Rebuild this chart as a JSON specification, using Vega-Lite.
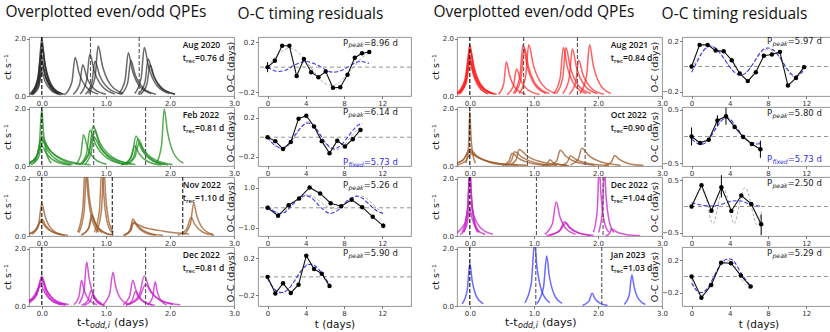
{
"$schema":"https://vega.github.io/schema/vega-lite/v6.json",
"background":"white",
"padding":{"left":1,"top":5,"right":2,"bottom":0},
"config":{
 "view":{"stroke":"#8a8a8a","strokeWidth":0.9},
 "axis":{"grid":false,"domain":false,"ticks":true,"tickColor":"#444","tickSize":2.5,"tickWidth":0.7,"labelFont":"DejaVu Sans","labelFontSize":7,"labelColor":"#333","labelPadding":1,"labelOverlap":false,"labelFlush":false,"titleFont":"DejaVu Sans","titleFontSize":9.5,"titleFontWeight":"normal","titleColor":"#111","titlePadding":2},
 "title":{"font":"Open Sans","fontSize":15.5,"fontWeight":"normal","color":"#111","anchor":"middle","offset":14},
 "text":{"font":"Open Sans","color":"#111"}
},
"datasets":{
"a1":[
{"f":1,"t":-0.15,"v":0.10},{"f":1,"t":-0.05,"v":0.76},{"f":1,"t":0,"v":2.05},{"f":1,"t":0.04,"v":1.25},{"f":1,"t":0.12,"v":0.45},{"f":1,"t":0.24,"v":0.10},
{"f":2,"t":-0.15,"v":0.09},{"f":2,"t":-0.05,"v":0.68},{"f":2,"t":0,"v":1.85},{"f":2,"t":0.045,"v":1.13},{"f":2,"t":0.135,"v":0.41},{"f":2,"t":0.27,"v":0.09},
{"f":3,"t":-0.14,"v":0.08},{"f":3,"t":-0.04,"v":0.61},{"f":3,"t":0.01,"v":1.65},{"f":3,"t":0.06,"v":1.01},{"f":3,"t":0.16,"v":0.36},{"f":3,"t":0.31,"v":0.08},
{"f":4,"t":-0.19,"v":0.07},{"f":4,"t":-0.07,"v":0.54},{"f":4,"t":-0.01,"v":1.45},{"f":4,"t":0.035,"v":0.88},{"f":4,"t":0.125,"v":0.32},{"f":4,"t":0.26,"v":0.07},
{"f":5,"t":-0.18,"v":0.06},{"f":5,"t":-0.06,"v":0.44},{"f":5,"t":0,"v":1.2},{"f":5,"t":0.055,"v":0.73},{"f":5,"t":0.165,"v":0.26},{"f":5,"t":0.33,"v":0.06},
{"f":6,"t":-0.17,"v":0.05},{"f":6,"t":-0.05,"v":0.37},{"f":6,"t":0.01,"v":1.0},{"f":6,"t":0.07,"v":0.61},{"f":6,"t":0.19,"v":0.22},{"f":6,"t":0.37,"v":0.05},
{"f":7,"t":-0.15,"v":0.04},{"f":7,"t":-0.05,"v":0.31},{"f":7,"t":0,"v":0.85},{"f":7,"t":0.05,"v":0.52},{"f":7,"t":0.15,"v":0.19},{"f":7,"t":0.30,"v":0.04},
{"f":8,"t":0.37,"v":0.07},{"f":8,"t":0.47,"v":0.50},{"f":8,"t":0.52,"v":1.35},{"f":8,"t":0.58,"v":0.82},{"f":8,"t":0.70,"v":0.30},{"f":8,"t":0.88,"v":0.07},
{"f":9,"t":0.49,"v":0.06},{"f":9,"t":0.59,"v":0.41},{"f":9,"t":0.64,"v":1.1},{"f":9,"t":0.70,"v":0.67},{"f":9,"t":0.82,"v":0.24},{"f":9,"t":1.00,"v":0.06},
{"f":10,"t":0.60,"v":0.07},{"f":10,"t":0.70,"v":0.55},{"f":10,"t":0.75,"v":1.48},{"f":10,"t":0.815,"v":0.90},{"f":10,"t":0.945,"v":0.33},{"f":10,"t":1.14,"v":0.07},
{"f":11,"t":0.68,"v":0.06},{"f":11,"t":0.78,"v":0.45},{"f":11,"t":0.83,"v":1.22},{"f":11,"t":0.90,"v":0.74},{"f":11,"t":1.04,"v":0.27},{"f":11,"t":1.25,"v":0.06},
{"f":12,"t":0.73,"v":0.09},{"f":12,"t":0.83,"v":0.65},{"f":12,"t":0.88,"v":1.75},{"f":12,"t":0.945,"v":1.07},{"f":12,"t":1.075,"v":0.39},{"f":12,"t":1.27,"v":0.09},
{"f":13,"t":1.20,"v":0.08},{"f":13,"t":1.30,"v":0.56},{"f":13,"t":1.35,"v":1.52},{"f":13,"t":1.41,"v":0.93},{"f":13,"t":1.53,"v":0.33},{"f":13,"t":1.71,"v":0.08},
{"f":14,"t":1.24,"v":0.06},{"f":14,"t":1.34,"v":0.46},{"f":14,"t":1.39,"v":1.25},{"f":14,"t":1.455,"v":0.76},{"f":14,"t":1.585,"v":0.28},{"f":14,"t":1.78,"v":0.06},
{"f":15,"t":1.45,"v":0.09},{"f":15,"t":1.55,"v":0.63},{"f":15,"t":1.60,"v":1.7},{"f":15,"t":1.665,"v":1.04},{"f":15,"t":1.795,"v":0.37},{"f":15,"t":1.99,"v":0.09},
{"f":16,"t":1.51,"v":0.07},{"f":16,"t":1.61,"v":0.48},{"f":16,"t":1.66,"v":1.3},{"f":16,"t":1.73,"v":0.79},{"f":16,"t":1.87,"v":0.29},{"f":16,"t":2.08,"v":0.07},
{"f":17,"t":1.54,"v":0.06},{"f":17,"t":1.64,"v":0.41},{"f":17,"t":1.69,"v":1.1},{"f":17,"t":1.755,"v":0.67},{"f":17,"t":1.885,"v":0.24},{"f":17,"t":2.08,"v":0.06}
],
"b1":[
{"f":1,"t":-0.12,"v":0.10},{"f":1,"t":-0.04,"v":0.74},{"f":1,"t":0,"v":2.0},{"f":1,"t":0.025,"v":1.22},{"f":1,"t":0.075,"v":0.44},{"f":1,"t":0.15,"v":0.10},
{"f":2,"t":-0.21,"v":0.05},{"f":2,"t":-0.07,"v":0.39},{"f":2,"t":0,"v":1.05},{"f":2,"t":0.10,"v":0.64},{"f":2,"t":0.30,"v":0.23},{"f":2,"t":0.60,"v":0.05},
{"f":3,"t":-0.24,"v":0.05},{"f":3,"t":-0.08,"v":0.35},{"f":3,"t":0,"v":0.95},{"f":3,"t":0.08,"v":0.58},{"f":3,"t":0.24,"v":0.21},{"f":3,"t":0.48,"v":0.05},
{"f":4,"t":-0.17,"v":0.04},{"f":4,"t":-0.05,"v":0.31},{"f":4,"t":0.01,"v":0.85},{"f":4,"t":0.135,"v":0.52},{"f":4,"t":0.385,"v":0.19},{"f":4,"t":0.76,"v":0.04},
{"f":5,"t":-0.3,"v":0.035},{"f":5,"t":-0.1,"v":0.26},{"f":5,"t":0,"v":0.7},{"f":5,"t":0.075,"v":0.43},{"f":5,"t":0.225,"v":0.15},{"f":5,"t":0.45,"v":0.035},
{"f":6,"t":0.53,"v":0.06},{"f":6,"t":0.61,"v":0.41},{"f":6,"t":0.65,"v":1.1},{"f":6,"t":0.71,"v":0.67},{"f":6,"t":0.83,"v":0.24},{"f":6,"t":1.01,"v":0.06},
{"f":7,"t":0.60,"v":0.06},{"f":7,"t":0.70,"v":0.46},{"f":7,"t":0.75,"v":1.25},{"f":7,"t":0.84,"v":0.76},{"f":7,"t":1.02,"v":0.28},{"f":7,"t":1.29,"v":0.06},
{"f":8,"t":0.62,"v":0.07},{"f":8,"t":0.74,"v":0.52},{"f":8,"t":0.80,"v":1.4},{"f":8,"t":0.90,"v":0.85},{"f":8,"t":1.10,"v":0.31},{"f":8,"t":1.40,"v":0.07},
{"f":9,"t":0.59,"v":0.05},{"f":9,"t":0.73,"v":0.39},{"f":9,"t":0.80,"v":1.05},{"f":9,"t":0.91,"v":0.64},{"f":9,"t":1.13,"v":0.23},{"f":9,"t":1.46,"v":0.05},
{"f":10,"t":0.67,"v":0.06},{"f":10,"t":0.77,"v":0.46},{"f":10,"t":0.82,"v":1.25},{"f":10,"t":0.90,"v":0.76},{"f":10,"t":1.06,"v":0.28},{"f":10,"t":1.30,"v":0.06},
{"f":11,"t":1.29,"v":0.05},{"f":11,"t":1.41,"v":0.39},{"f":11,"t":1.47,"v":1.05},{"f":11,"t":1.545,"v":0.64},{"f":11,"t":1.695,"v":0.23},{"f":11,"t":1.92,"v":0.05},
{"f":12,"t":1.32,"v":0.05},{"f":12,"t":1.44,"v":0.35},{"f":12,"t":1.50,"v":0.95},{"f":12,"t":1.59,"v":0.58},{"f":12,"t":1.77,"v":0.21},{"f":12,"t":2.04,"v":0.05},
{"f":13,"t":1.31,"v":0.04},{"f":13,"t":1.45,"v":0.30},{"f":13,"t":1.52,"v":0.8},{"f":13,"t":1.595,"v":0.49},{"f":13,"t":1.745,"v":0.18},{"f":13,"t":1.97,"v":0.04},
{"f":14,"t":1.24,"v":0.035},{"f":14,"t":1.38,"v":0.26},{"f":14,"t":1.45,"v":0.7},{"f":14,"t":1.52,"v":0.43},{"f":14,"t":1.66,"v":0.15},{"f":14,"t":1.87,"v":0.035},
{"f":15,"t":1.79,"v":0.10},{"f":15,"t":1.87,"v":0.74},{"f":15,"t":1.91,"v":2.0},{"f":15,"t":1.96,"v":1.22},{"f":15,"t":2.06,"v":0.44},{"f":15,"t":2.21,"v":0.10}
],
"c1":[
{"f":1,"t":-0.15,"v":0.06},{"f":1,"t":-0.05,"v":0.43},{"f":1,"t":0,"v":1.15},{"f":1,"t":0.05,"v":0.70},{"f":1,"t":0.15,"v":0.25},{"f":1,"t":0.30,"v":0.06},
{"f":2,"t":-0.24,"v":0.03},{"f":2,"t":-0.08,"v":0.22},{"f":2,"t":0,"v":0.6},{"f":2,"t":0.06,"v":0.37},{"f":2,"t":0.18,"v":0.13},{"f":2,"t":0.36,"v":0.03},
{"f":3,"t":-0.31,"v":0.025},{"f":3,"t":-0.11,"v":0.19},{"f":3,"t":-0.01,"v":0.5},{"f":3,"t":0.06,"v":0.31},{"f":3,"t":0.20,"v":0.11},{"f":3,"t":0.41,"v":0.025},
{"f":4,"t":0.56,"v":0.13},{"f":4,"t":0.64,"v":0.96},{"f":4,"t":0.68,"v":2.6},{"f":4,"t":0.715,"v":1.59},{"f":4,"t":0.785,"v":0.57},{"f":4,"t":0.89,"v":0.13},
{"f":5,"t":0.58,"v":0.12},{"f":5,"t":0.66,"v":0.85},{"f":5,"t":0.70,"v":2.3},{"f":5,"t":0.74,"v":1.40},{"f":5,"t":0.82,"v":0.51},{"f":5,"t":0.94,"v":0.12},
{"f":6,"t":0.63,"v":0.04},{"f":6,"t":0.73,"v":0.28},{"f":6,"t":0.78,"v":0.75},{"f":6,"t":0.83,"v":0.46},{"f":6,"t":0.93,"v":0.17},{"f":6,"t":1.08,"v":0.04},
{"f":7,"t":0.61,"v":0.03},{"f":7,"t":0.73,"v":0.25},{"f":7,"t":0.79,"v":0.68},{"f":7,"t":0.845,"v":0.41},{"f":7,"t":0.955,"v":0.15},{"f":7,"t":1.12,"v":0.03},
{"f":8,"t":0.82,"v":0.13},{"f":8,"t":0.90,"v":0.93},{"f":8,"t":0.94,"v":2.5},{"f":8,"t":0.965,"v":1.53},{"f":8,"t":1.015,"v":0.55},{"f":8,"t":1.09,"v":0.13},
{"f":9,"t":0.85,"v":0.12},{"f":9,"t":0.93,"v":0.89},{"f":9,"t":0.97,"v":2.4},{"f":9,"t":0.995,"v":1.46},{"f":9,"t":1.045,"v":0.53},{"f":9,"t":1.12,"v":0.12},
{"f":10,"t":1.30,"v":0.03},{"f":10,"t":1.38,"v":0.22},{"f":10,"t":1.42,"v":0.6},{"f":10,"t":1.48,"v":0.37},{"f":10,"t":1.60,"v":0.13},{"f":10,"t":1.78,"v":0.03},
{"f":11,"t":1.27,"v":0.02},{"f":11,"t":1.37,"v":0.17},{"f":11,"t":1.42,"v":0.45},{"f":11,"t":1.6,"v":0.3},{"f":11,"t":1.9,"v":0.17},{"f":11,"t":2.3,"v":0.07},
{"f":12,"t":1.29,"v":0.025},{"f":12,"t":1.39,"v":0.19},{"f":12,"t":1.44,"v":0.5},{"f":12,"t":1.515,"v":0.31},{"f":12,"t":1.665,"v":0.11},{"f":12,"t":1.89,"v":0.025},
{"f":13,"t":2.22,"v":0.06},{"f":13,"t":2.32,"v":0.43},{"f":13,"t":2.37,"v":1.15},{"f":13,"t":2.42,"v":0.70},{"f":13,"t":2.52,"v":0.25},{"f":13,"t":2.67,"v":0.06},
{"f":14,"t":2.12,"v":0.03},{"f":14,"t":2.26,"v":0.24},{"f":14,"t":2.33,"v":0.65},{"f":14,"t":2.39,"v":0.40},{"f":14,"t":2.51,"v":0.14},{"f":14,"t":2.69,"v":0.03}
],
"d1":[
{"f":1,"t":-0.24,"v":0.05},{"f":1,"t":-0.08,"v":0.39},{"f":1,"t":0,"v":1.05},{"f":1,"t":0.06,"v":0.64},{"f":1,"t":0.18,"v":0.23},{"f":1,"t":0.36,"v":0.05},
{"f":2,"t":-0.3,"v":0.05},{"f":2,"t":-0.1,"v":0.35},{"f":2,"t":0,"v":0.95},{"f":2,"t":0.07,"v":0.58},{"f":2,"t":0.21,"v":0.21},{"f":2,"t":0.42,"v":0.05},
{"f":3,"t":-0.35,"v":0.04},{"f":3,"t":-0.11,"v":0.31},{"f":3,"t":0.01,"v":0.85},{"f":3,"t":0.06,"v":0.52},{"f":3,"t":0.16,"v":0.19},{"f":3,"t":0.31,"v":0.04},
{"f":4,"t":-0.46,"v":0.035},{"f":4,"t":-0.16,"v":0.26},{"f":4,"t":-0.01,"v":0.7},{"f":4,"t":0.055,"v":0.43},{"f":4,"t":0.185,"v":0.15},{"f":4,"t":0.38,"v":0.035},
{"f":5,"t":0.50,"v":0.045},{"f":5,"t":0.58,"v":0.33},{"f":5,"t":0.62,"v":0.9},{"f":5,"t":0.66,"v":0.55},{"f":5,"t":0.74,"v":0.20},{"f":5,"t":0.86,"v":0.045},
{"f":6,"t":0.58,"v":0.08},{"f":6,"t":0.66,"v":0.57},{"f":6,"t":0.70,"v":1.55},{"f":6,"t":0.74,"v":0.95},{"f":6,"t":0.82,"v":0.34},{"f":6,"t":0.94,"v":0.08},
{"f":7,"t":0.62,"v":0.03},{"f":7,"t":0.72,"v":0.20},{"f":7,"t":0.77,"v":0.55},{"f":7,"t":0.805,"v":0.34},{"f":7,"t":0.875,"v":0.12},{"f":7,"t":0.98,"v":0.03},
{"f":8,"t":0.65,"v":0.02},{"f":8,"t":0.75,"v":0.15},{"f":8,"t":0.80,"v":0.4},{"f":8,"t":0.83,"v":0.24},{"f":8,"t":0.89,"v":0.09},{"f":8,"t":0.98,"v":0.02},
{"f":9,"t":0.96,"v":0.06},{"f":9,"t":1.06,"v":0.44},{"f":9,"t":1.11,"v":1.18},{"f":9,"t":1.15,"v":0.72},{"f":9,"t":1.23,"v":0.26},{"f":9,"t":1.35,"v":0.06},
{"f":10,"t":1.27,"v":0.045},{"f":10,"t":1.37,"v":0.33},{"f":10,"t":1.42,"v":0.9},{"f":10,"t":1.47,"v":0.55},{"f":10,"t":1.57,"v":0.20},{"f":10,"t":1.72,"v":0.045},
{"f":11,"t":1.31,"v":0.025},{"f":11,"t":1.41,"v":0.19},{"f":11,"t":1.46,"v":0.5},{"f":11,"t":1.51,"v":0.31},{"f":11,"t":1.61,"v":0.11},{"f":11,"t":1.76,"v":0.025},
{"f":12,"t":1.36,"v":0.05},{"f":12,"t":1.52,"v":0.39},{"f":12,"t":1.60,"v":1.05},{"f":12,"t":1.675,"v":0.64},{"f":12,"t":1.825,"v":0.23},{"f":12,"t":2.05,"v":0.05},
{"f":13,"t":1.32,"v":0.04},{"f":13,"t":1.52,"v":0.28},{"f":13,"t":1.62,"v":0.75},{"f":13,"t":1.71,"v":0.46},{"f":13,"t":1.89,"v":0.17},{"f":13,"t":2.16,"v":0.04},
{"f":14,"t":1.65,"v":0.04},{"f":14,"t":1.73,"v":0.31},{"f":14,"t":1.77,"v":0.85},{"f":14,"t":1.80,"v":0.52},{"f":14,"t":1.86,"v":0.19},{"f":14,"t":1.95,"v":0.04}
],
"a3":[
{"f":1,"t":-0.15,"v":0.09},{"f":1,"t":-0.05,"v":0.67},{"f":1,"t":0,"v":1.8},{"f":1,"t":0.045,"v":1.10},{"f":1,"t":0.135,"v":0.40},{"f":1,"t":0.27,"v":0.09},
{"f":2,"t":-0.18,"v":0.09},{"f":2,"t":-0.06,"v":0.65},{"f":2,"t":0,"v":1.75},{"f":2,"t":0.055,"v":1.07},{"f":2,"t":0.165,"v":0.39},{"f":2,"t":0.33,"v":0.09},
{"f":3,"t":-0.17,"v":0.08},{"f":3,"t":-0.05,"v":0.59},{"f":3,"t":0.01,"v":1.6},{"f":3,"t":0.07,"v":0.98},{"f":3,"t":0.19,"v":0.35},{"f":3,"t":0.37,"v":0.08},
{"f":4,"t":-0.22,"v":0.07},{"f":4,"t":-0.08,"v":0.54},{"f":4,"t":-0.01,"v":1.45},{"f":4,"t":0.04,"v":0.88},{"f":4,"t":0.14,"v":0.32},{"f":4,"t":0.29,"v":0.07},
{"f":5,"t":-0.21,"v":0.065},{"f":5,"t":-0.07,"v":0.48},{"f":5,"t":0,"v":1.3},{"f":5,"t":0.065,"v":0.79},{"f":5,"t":0.195,"v":0.29},{"f":5,"t":0.39,"v":0.065},
{"f":6,"t":-0.18,"v":0.06},{"f":6,"t":-0.06,"v":0.43},{"f":6,"t":0,"v":1.15},{"f":6,"t":0.07,"v":0.70},{"f":6,"t":0.21,"v":0.25},{"f":6,"t":0.42,"v":0.06},
{"f":7,"t":0.45,"v":0.06},{"f":7,"t":0.53,"v":0.44},{"f":7,"t":0.57,"v":1.2},{"f":7,"t":0.62,"v":0.73},{"f":7,"t":0.72,"v":0.26},{"f":7,"t":0.87,"v":0.06},
{"f":8,"t":0.58,"v":0.05},{"f":8,"t":0.68,"v":0.35},{"f":8,"t":0.73,"v":0.95},{"f":8,"t":0.79,"v":0.58},{"f":8,"t":0.91,"v":0.21},{"f":8,"t":1.09,"v":0.05},
{"f":9,"t":0.68,"v":0.09},{"f":9,"t":0.78,"v":0.67},{"f":9,"t":0.83,"v":1.8},{"f":9,"t":0.89,"v":1.10},{"f":9,"t":1.01,"v":0.40},{"f":9,"t":1.19,"v":0.09},
{"f":10,"t":0.70,"v":0.085},{"f":10,"t":0.80,"v":0.63},{"f":10,"t":0.85,"v":1.7},{"f":10,"t":0.915,"v":1.04},{"f":10,"t":1.045,"v":0.37},{"f":10,"t":1.24,"v":0.085},
{"f":11,"t":0.77,"v":0.09},{"f":11,"t":0.87,"v":0.67},{"f":11,"t":0.92,"v":1.8},{"f":11,"t":0.99,"v":1.10},{"f":11,"t":1.13,"v":0.40},{"f":11,"t":1.34,"v":0.09},
{"f":12,"t":1.31,"v":0.085},{"f":12,"t":1.41,"v":0.63},{"f":12,"t":1.46,"v":1.7},{"f":12,"t":1.52,"v":1.04},{"f":12,"t":1.64,"v":0.37},{"f":12,"t":1.82,"v":0.085},
{"f":13,"t":1.35,"v":0.085},{"f":13,"t":1.45,"v":0.63},{"f":13,"t":1.50,"v":1.7},{"f":13,"t":1.565,"v":1.04},{"f":13,"t":1.695,"v":0.37},{"f":13,"t":1.89,"v":0.085},
{"f":14,"t":1.45,"v":0.08},{"f":14,"t":1.55,"v":0.61},{"f":14,"t":1.60,"v":1.65},{"f":14,"t":1.665,"v":1.01},{"f":14,"t":1.795,"v":0.36},{"f":14,"t":1.99,"v":0.08},
{"f":15,"t":1.55,"v":0.06},{"f":15,"t":1.65,"v":0.46},{"f":15,"t":1.70,"v":1.25},{"f":15,"t":1.765,"v":0.76},{"f":15,"t":1.895,"v":0.28},{"f":15,"t":2.09,"v":0.06},
{"f":16,"t":1.72,"v":0.09},{"f":16,"t":1.82,"v":0.67},{"f":16,"t":1.87,"v":1.8},{"f":16,"t":1.925,"v":1.10},{"f":16,"t":2.035,"v":0.40},{"f":16,"t":2.20,"v":0.09}
],
"b3":[
{"f":1,"t":-0.06,"v":0.10},{"f":1,"t":-0.02,"v":0.70},{"f":1,"t":0,"v":1.9},{"f":1,"t":0.015,"v":1.16},{"f":1,"t":0.045,"v":0.42},{"f":1,"t":0.09,"v":0.10},
{"f":2,"t":-0.3,"v":0.03},{"f":2,"t":-0.1,"v":0.22},{"f":2,"t":0,"v":0.6},{"f":2,"t":0.10,"v":0.37},{"f":2,"t":0.30,"v":0.13},{"f":2,"t":0.60,"v":0.03},
{"f":3,"t":-0.36,"v":0.025},{"f":3,"t":-0.12,"v":0.19},{"f":3,"t":0,"v":0.5},{"f":3,"t":0.125,"v":0.31},{"f":3,"t":0.375,"v":0.11},{"f":3,"t":0.75,"v":0.025},
{"f":4,"t":-0.23,"v":0.02},{"f":4,"t":-0.07,"v":0.16},{"f":4,"t":0.01,"v":0.42},{"f":4,"t":0.16,"v":0.26},{"f":4,"t":0.46,"v":0.09},{"f":4,"t":0.91,"v":0.02},
{"f":5,"t":0.51,"v":0.02},{"f":5,"t":0.61,"v":0.17},{"f":5,"t":0.66,"v":0.45},{"f":5,"t":0.76,"v":0.27},{"f":5,"t":0.96,"v":0.10},{"f":5,"t":1.26,"v":0.02},
{"f":6,"t":0.55,"v":0.025},{"f":6,"t":0.65,"v":0.19},{"f":6,"t":0.70,"v":0.5},{"f":6,"t":0.81,"v":0.31},{"f":6,"t":1.03,"v":0.11},{"f":6,"t":1.36,"v":0.025},
{"f":7,"t":0.62,"v":0.03},{"f":7,"t":0.72,"v":0.21},{"f":7,"t":0.77,"v":0.58},{"f":7,"t":0.895,"v":0.35},{"f":7,"t":1.145,"v":0.13},{"f":7,"t":1.52,"v":0.03},
{"f":8,"t":1.13,"v":0.01},{"f":8,"t":1.21,"v":0.08},{"f":8,"t":1.25,"v":0.22},{"f":8,"t":1.30,"v":0.13},{"f":8,"t":1.40,"v":0.05},{"f":8,"t":1.55,"v":0.01},
{"f":9,"t":1.26,"v":0.03},{"f":9,"t":1.36,"v":0.20},{"f":9,"t":1.41,"v":0.55},{"f":9,"t":1.50,"v":0.34},{"f":9,"t":1.68,"v":0.12},{"f":9,"t":1.95,"v":0.03},
{"f":10,"t":1.42,"v":0.02},{"f":10,"t":1.52,"v":0.13},{"f":10,"t":1.57,"v":0.35},{"f":10,"t":1.67,"v":0.21},{"f":10,"t":1.87,"v":0.08},{"f":10,"t":2.17,"v":0.02},
{"f":11,"t":1.57,"v":0.03},{"f":11,"t":1.69,"v":0.23},{"f":11,"t":1.75,"v":0.62},{"f":11,"t":1.85,"v":0.38},{"f":11,"t":2.05,"v":0.14},{"f":11,"t":2.35,"v":0.03},
{"f":12,"t":2.11,"v":0.02},{"f":12,"t":2.21,"v":0.14},{"f":12,"t":2.26,"v":0.37},{"f":12,"t":2.335,"v":0.23},{"f":12,"t":2.485,"v":0.08},{"f":12,"t":2.71,"v":0.02}
],
"c3":[
{"f":1,"t":-0.09,"v":0.13},{"f":1,"t":-0.03,"v":0.96},{"f":1,"t":0,"v":2.6},{"f":1,"t":0.02,"v":1.59},{"f":1,"t":0.06,"v":0.57},{"f":1,"t":0.12,"v":0.13},
{"f":2,"t":-0.12,"v":0.12},{"f":2,"t":-0.04,"v":0.85},{"f":2,"t":0,"v":2.3},{"f":2,"t":0.025,"v":1.40},{"f":2,"t":0.075,"v":0.51},{"f":2,"t":0.15,"v":0.12},
{"f":3,"t":-0.24,"v":0.06},{"f":3,"t":-0.08,"v":0.44},{"f":3,"t":0,"v":1.2},{"f":3,"t":0.06,"v":0.73},{"f":3,"t":0.18,"v":0.26},{"f":3,"t":0.36,"v":0.06},
{"f":4,"t":-0.15,"v":0.05},{"f":4,"t":-0.05,"v":0.35},{"f":4,"t":0,"v":0.95},{"f":4,"t":0.04,"v":0.58},{"f":4,"t":0.12,"v":0.21},{"f":4,"t":0.24,"v":0.05},
{"f":5,"t":1.17,"v":0.06},{"f":5,"t":1.29,"v":0.44},{"f":5,"t":1.35,"v":1.2},{"f":5,"t":1.40,"v":0.73},{"f":5,"t":1.50,"v":0.26},{"f":5,"t":1.65,"v":0.06},
{"f":6,"t":1.24,"v":0.025},{"f":6,"t":1.40,"v":0.19},{"f":6,"t":1.48,"v":0.5},{"f":6,"t":1.555,"v":0.31},{"f":6,"t":1.705,"v":0.11},{"f":6,"t":1.93,"v":0.025},
{"f":7,"t":1.20,"v":0.02},{"f":7,"t":1.40,"v":0.17},{"f":7,"t":1.50,"v":0.45},{"f":7,"t":1.565,"v":0.27},{"f":7,"t":1.695,"v":0.10},{"f":7,"t":1.89,"v":0.02},
{"f":8,"t":1.93,"v":0.13},{"f":8,"t":1.99,"v":0.93},{"f":8,"t":2.02,"v":2.5},{"f":8,"t":2.045,"v":1.53},{"f":8,"t":2.095,"v":0.55},{"f":8,"t":2.17,"v":0.13},
{"f":9,"t":2.01,"v":0.12},{"f":9,"t":2.07,"v":0.89},{"f":9,"t":2.10,"v":2.4},{"f":9,"t":2.125,"v":1.46},{"f":9,"t":2.175,"v":0.53},{"f":9,"t":2.25,"v":0.12},
{"f":10,"t":2.12,"v":0.01},{"f":10,"t":2.18,"v":0.09},{"f":10,"t":2.21,"v":0.25},{"f":10,"t":2.285,"v":0.15},{"f":10,"t":2.435,"v":0.055},{"f":10,"t":2.66,"v":0.01}
],
"d3":[
{"f":1,"t":-0.12,"v":0.075},{"f":1,"t":-0.04,"v":0.56},{"f":1,"t":0,"v":1.5},{"f":1,"t":0.035,"v":0.92},{"f":1,"t":0.105,"v":0.33},{"f":1,"t":0.21,"v":0.075},
{"f":2,"t":0.86,"v":0.11},{"f":2,"t":0.96,"v":0.81},{"f":2,"t":1.01,"v":2.2},{"f":2,"t":1.05,"v":1.34},{"f":2,"t":1.13,"v":0.48},{"f":2,"t":1.25,"v":0.11},
{"f":3,"t":1.05,"v":0.09},{"f":3,"t":1.15,"v":0.65},{"f":3,"t":1.20,"v":1.75},{"f":3,"t":1.24,"v":1.07},{"f":3,"t":1.32,"v":0.39},{"f":3,"t":1.44,"v":0.09},
{"f":4,"t":1.76,"v":0.02},{"f":4,"t":1.86,"v":0.17},{"f":4,"t":1.91,"v":0.45},{"f":4,"t":1.95,"v":0.27},{"f":4,"t":2.03,"v":0.10},{"f":4,"t":2.15,"v":0.02},
{"f":5,"t":2.41,"v":0.055},{"f":5,"t":2.49,"v":0.41},{"f":5,"t":2.53,"v":1.1},{"f":5,"t":2.565,"v":0.67},{"f":5,"t":2.635,"v":0.24},{"f":5,"t":2.74,"v":0.055}
],
"oa2":[{"t":0,"y":0,"lo":-0.04,"hi":0.04},{"t":0.76,"y":0.05},{"t":1.52,"y":0.17},{"t":2.28,"y":0.17},{"t":3.04,"y":-0.07},{"t":3.8,"y":0.065},{"t":4.56,"y":-0.04},{"t":5.32,"y":-0.08},{"t":6.08,"y":-0.035},{"t":6.84,"y":-0.165},{"t":7.6,"y":-0.16},{"t":8.36,"y":-0.06},{"t":9.12,"y":0.075},{"t":9.88,"y":0.11},{"t":10.64,"y":0.12}],
"ba2":[{"t":0,"y":0},{"t":0.6,"y":-0.025},{"t":1.2,"y":-0.035},{"t":2,"y":-0.02},{"t":2.8,"y":0.015},{"t":3.6,"y":0.04},{"t":4.1,"y":0.045},{"t":4.8,"y":0.03},{"t":5.6,"y":0},{"t":6.3,"y":-0.03},{"t":6.9,"y":-0.04},{"t":7.6,"y":-0.03},{"t":8.4,"y":0},{"t":9.2,"y":0.035},{"t":9.8,"y":0.045},{"t":10.6,"y":0.03}],
"ga2":[{"t":0,"y":0},{"t":0.8,"y":0.08},{"t":1.6,"y":0.13},{"t":2.3,"y":0.15},{"t":3,"y":0.13},{"t":3.8,"y":0.07},{"t":4.5,"y":0},{"t":5.3,"y":-0.08},{"t":6,"y":-0.13},{"t":6.8,"y":-0.145},{"t":7.5,"y":-0.12},{"t":8.3,"y":-0.06},{"t":9,"y":0},{"t":9.8,"y":0.07},{"t":10.6,"y":0.11}],
"ob2":[{"t":0,"y":0},{"t":0.81,"y":-0.04},{"t":1.62,"y":-0.12},{"t":2.43,"y":-0.05},{"t":3.24,"y":0.19},{"t":4.05,"y":0.22},{"t":4.86,"y":0.11},{"t":5.67,"y":-0.04},{"t":6.48,"y":-0.165},{"t":7.29,"y":-0.035},{"t":8.1,"y":-0.095},{"t":8.91,"y":-0.02},{"t":9.72,"y":0.075}],
"bb2":[{"t":0,"y":0},{"t":0.6,"y":-0.07},{"t":1.5,"y":-0.11},{"t":2.3,"y":-0.06},{"t":3,"y":0.04},{"t":3.7,"y":0.12},{"t":4.3,"y":0.145},{"t":5,"y":0.1},{"t":5.8,"y":-0.02},{"t":6.5,"y":-0.1},{"t":7.1,"y":-0.115},{"t":7.8,"y":-0.07},{"t":8.6,"y":0.03},{"t":9.3,"y":0.11},{"t":9.9,"y":0.145}],
"gb2":[{"t":0,"y":0},{"t":0.7,"y":-0.08},{"t":1.6,"y":-0.12},{"t":2.4,"y":-0.07},{"t":3.2,"y":0.06},{"t":4,"y":0.15},{"t":4.6,"y":0.14},{"t":5.4,"y":0.04},{"t":6.3,"y":-0.09},{"t":7.1,"y":-0.13},{"t":7.8,"y":-0.1},{"t":8.6,"y":-0.01},{"t":9.4,"y":0.08},{"t":9.9,"y":0.11}],
"oc2":[{"t":0,"y":0},{"t":1.1,"y":-0.4},{"t":2.2,"y":0.13},{"t":3.3,"y":0.47},{"t":4.4,"y":1.02},{"t":5.5,"y":0.72},{"t":6.6,"y":0.23},{"t":7.7,"y":0.08},{"t":8.8,"y":0.4},{"t":9.9,"y":0.03},{"t":11,"y":-0.45},{"t":12.1,"y":-0.9,"lo":-1.02,"hi":-0.78}],
"bc2":[{"t":0,"y":0.05},{"t":0.6,"y":-0.15},{"t":1.3,"y":-0.3},{"t":2,"y":-0.15},{"t":2.8,"y":0.25},{"t":3.6,"y":0.55},{"t":4,"y":0.6},{"t":4.6,"y":0.5},{"t":5.4,"y":0.1},{"t":6.2,"y":-0.22},{"t":6.7,"y":-0.27},{"t":7.4,"y":-0.1},{"t":8.2,"y":0.3},{"t":9,"y":0.55},{"t":9.4,"y":0.58},{"t":10,"y":0.45},{"t":10.9,"y":0.05},{"t":11.6,"y":-0.2},{"t":12.1,"y":-0.28}],
"gc2":[{"t":0,"y":0.15},{"t":0.6,"y":-0.1},{"t":1.3,"y":-0.25},{"t":2.2,"y":0},{"t":3.2,"y":0.45},{"t":4.2,"y":0.65},{"t":5,"y":0.5},{"t":5.9,"y":0.15},{"t":6.8,"y":-0.05},{"t":7.6,"y":0.05},{"t":8.6,"y":0.4},{"t":9.6,"y":0.6},{"t":10.4,"y":0.45},{"t":11.3,"y":0.05},{"t":12.1,"y":-0.3}],
"od2":[{"t":0,"y":0},{"t":0.81,"y":-0.18},{"t":1.62,"y":-0.07},{"t":2.43,"y":-0.175},{"t":3.24,"y":-0.085},{"t":4.05,"y":0.23},{"t":4.86,"y":0.085},{"t":5.67,"y":0.035},{"t":6.48,"y":-0.1}],
"bd2":[{"t":0,"y":-0.02},{"t":0.7,"y":-0.13},{"t":1.5,"y":-0.17},{"t":2.3,"y":-0.12},{"t":3.1,"y":0},{"t":3.9,"y":0.11},{"t":4.6,"y":0.135},{"t":5.3,"y":0.09},{"t":6,"y":-0.01},{"t":6.5,"y":-0.08}],
"gd2":[{"t":0,"y":0},{"t":0.8,"y":-0.15},{"t":1.6,"y":-0.17},{"t":2.4,"y":-0.1},{"t":3.2,"y":0.03},{"t":4,"y":0.13},{"t":4.7,"y":0.14},{"t":5.4,"y":0.07},{"t":6,"y":-0.03},{"t":6.5,"y":-0.1}],
"oa4":[{"t":0,"y":0},{"t":0.84,"y":0.17},{"t":1.68,"y":0.17},{"t":2.52,"y":0.125},{"t":3.36,"y":0.12},{"t":4.2,"y":0.05},{"t":5.04,"y":-0.055},{"t":5.88,"y":-0.115},{"t":6.72,"y":-0.045},{"t":7.56,"y":0.085},{"t":8.4,"y":0.095},{"t":9.24,"y":0.115},{"t":10.08,"y":-0.15},{"t":10.92,"y":-0.09},{"t":11.76,"y":-0.005}],
"ba4":[{"t":0,"y":-0.045},{"t":0.6,"y":0.04},{"t":1.3,"y":0.13},{"t":2,"y":0.16},{"t":2.7,"y":0.13},{"t":3.5,"y":0.05},{"t":4.3,"y":-0.03},{"t":5,"y":-0.065},{"t":5.7,"y":-0.05},{"t":6.5,"y":0.03},{"t":7.3,"y":0.12},{"t":8,"y":0.145},{"t":8.7,"y":0.12},{"t":9.5,"y":0.04},{"t":10.2,"y":-0.04},{"t":10.9,"y":-0.075},{"t":11.7,"y":-0.03}],
"ga4":[{"t":0,"y":-0.02},{"t":0.7,"y":0.07},{"t":1.5,"y":0.14},{"t":2.2,"y":0.16},{"t":2.9,"y":0.12},{"t":3.7,"y":0.03},{"t":4.5,"y":-0.05},{"t":5.2,"y":-0.07},{"t":5.9,"y":-0.03},{"t":6.7,"y":0.05},{"t":7.5,"y":0.12},{"t":8.3,"y":0.13},{"t":9.1,"y":0.08},{"t":9.9,"y":-0.02},{"t":10.6,"y":-0.08},{"t":11.3,"y":-0.07},{"t":11.7,"y":-0.04}],
"ob4":[{"t":0,"y":0,"lo":-0.17,"hi":0.17},{"t":0.9,"y":-0.12},{"t":1.8,"y":-0.06},{"t":2.7,"y":0.3,"lo":0.2,"hi":0.4},{"t":3.6,"y":0.38,"lo":0.22,"hi":0.54},{"t":4.5,"y":0.18},{"t":5.4,"y":-0.01},{"t":6.3,"y":-0.14},{"t":7.2,"y":-0.24,"lo":-0.4,"hi":-0.08}],
"bb4":[{"t":0,"y":-0.05},{"t":0.5,"y":-0.12},{"t":1,"y":-0.145},{"t":1.6,"y":-0.1},{"t":2.3,"y":0.08},{"t":3,"y":0.27},{"t":3.6,"y":0.35},{"t":4.2,"y":0.3},{"t":4.9,"y":0.12},{"t":5.7,"y":-0.05},{"t":6.4,"y":-0.13},{"t":7,"y":-0.14},{"t":7.2,"y":-0.13}],
"gb4":[{"t":0,"y":-0.02},{"t":0.6,"y":-0.1},{"t":1.1,"y":-0.12},{"t":1.7,"y":-0.07},{"t":2.4,"y":0.12},{"t":3.1,"y":0.3},{"t":3.6,"y":0.34},{"t":4.2,"y":0.28},{"t":4.9,"y":0.1},{"t":5.6,"y":-0.05},{"t":6.3,"y":-0.12},{"t":7,"y":-0.11},{"t":7.2,"y":-0.1}],
"oc4":[{"t":0,"y":0},{"t":1.04,"y":0.41},{"t":2.08,"y":-0.08},{"t":3.12,"y":0.37,"lo":0.17,"hi":0.6},{"t":4.16,"y":-0.085},{"t":5.2,"y":0.21},{"t":6.24,"y":0.05},{"t":7.28,"y":-0.34,"lo":-0.55,"hi":-0.15}],
"bc4":[{"t":0,"y":0.07},{"t":0.7,"y":0.04},{"t":1.5,"y":0.015},{"t":2.3,"y":0.01},{"t":3.1,"y":0.04},{"t":3.9,"y":0.09},{"t":4.6,"y":0.11},{"t":5.3,"y":0.1},{"t":6,"y":0.05},{"t":6.7,"y":0.02},{"t":7.3,"y":0}],
"gc4":[{"t":0,"y":-0.05},{"t":0.5,"y":0.2},{"t":1,"y":0.33},{"t":1.6,"y":0.1},{"t":2.2,"y":-0.33},{"t":2.8,"y":0.05},{"t":3.3,"y":0.35},{"t":3.9,"y":0.05},{"t":4.45,"y":-0.33},{"t":5,"y":0.05},{"t":5.6,"y":0.36},{"t":6.2,"y":0.05},{"t":6.8,"y":-0.35},{"t":7.3,"y":-0.1}],
"od4":[{"t":0,"y":0},{"t":1.03,"y":-0.265},{"t":2.06,"y":-0.105},{"t":3.09,"y":0.173},{"t":4.12,"y":0.165},{"t":5.15,"y":0.013},{"t":6.18,"y":-0.126}],
"bd4":[{"t":0,"y":-0.08},{"t":0.5,"y":-0.17},{"t":1.1,"y":-0.2},{"t":1.8,"y":-0.12},{"t":2.6,"y":0.06},{"t":3.3,"y":0.19},{"t":3.9,"y":0.22},{"t":4.5,"y":0.18},{"t":5.3,"y":0.02},{"t":6.2,"y":-0.12}],
"gd4":[{"t":0,"y":-0.03},{"t":0.5,"y":-0.18},{"t":1.1,"y":-0.23},{"t":1.8,"y":-0.13},{"t":2.6,"y":0.07},{"t":3.3,"y":0.19},{"t":3.8,"y":0.2},{"t":4.4,"y":0.16},{"t":5.2,"y":-0.03},{"t":6.2,"y":-0.17}]
},
"spacing":17,
"hconcat":[
{"spacing":-16,"hconcat":[
{"title":{"text":"Overplotted even/odd QPEs","dx":-15},"bounds":"flush","spacing":11,"vconcat":[
{"width":205,"height":59,"layer":[
 {"data":{"name":"a1"},"mark":{"type":"line","clip":true,"interpolate":"monotone","strokeWidth":1.5,"opacity":0.7,"color":"#2a2a2a"},
  "encoding":{"x":{"field":"t","type":"quantitative","scale":{"domain":[-0.2,3],"nice":false,"zero":false},"axis":{"values":[0,0.5,1,1.5,2,2.5,3],"format":".1f","title":null,"labelOverlap":false}},
   "y":{"field":"v","type":"quantitative","scale":{"domain":[0,2.07],"nice":false,"zero":false},"axis":{"values":[0,0.5,1,1.5,2],"format":".1f","title":"ct s⁻¹","labelOverlap":false}},
   "detail":{"field":"f","type":"nominal"}}},
 {"data":{"values":[{"x":0},{"x":0.76},{"x":1.52}]},"mark":{"type":"rule","strokeDash":[4,2],"strokeWidth":1.1},"encoding":{"x":{"field":"x","type":"quantitative"},"color":{"condition":{"test":"datum.x==0","value":"#000"},"value":"#555"}}},
 {"data":{"values":[{}]},"mark":{"type":"text","text":"Aug 2020","align":"left","fontSize":8.5,"fontWeight":600},"encoding":{"x":{"datum":2.2},"y":{"datum":1.78}}},
 {"data":{"values":[{}]},"mark":{"type":"text","text":"t","align":"left","fontSize":8.5,"fontWeight":600},"encoding":{"x":{"datum":2.2},"y":{"datum":1.33}}},
 {"data":{"values":[{}]},"mark":{"type":"text","text":"rec","align":"left","fontSize":6,"fontWeight":600,"dx":3.2,"dy":2.5},"encoding":{"x":{"datum":2.2},"y":{"datum":1.33}}},
 {"data":{"values":[{}]},"mark":{"type":"text","text":"=0.76 d","align":"left","fontSize":8.5,"fontWeight":600,"dx":12.3},"encoding":{"x":{"datum":2.2},"y":{"datum":1.33}}}
]},
{"width":205,"height":59,"layer":[
 {"data":{"name":"b1"},"mark":{"type":"line","clip":true,"interpolate":"monotone","strokeWidth":1.5,"opacity":0.75,"color":"#1f8f1f"},
  "encoding":{"x":{"field":"t","type":"quantitative","scale":{"domain":[-0.2,3],"nice":false,"zero":false},"axis":{"values":[0,0.5,1,1.5,2,2.5,3],"format":".1f","title":null,"labelOverlap":false}},
   "y":{"field":"v","type":"quantitative","scale":{"domain":[0,2.07],"nice":false,"zero":false},"axis":{"values":[0,0.5,1,1.5,2],"format":".1f","title":"ct s⁻¹","labelOverlap":false}},
   "detail":{"field":"f","type":"nominal"}}},
 {"data":{"values":[{"x":0},{"x":0.81},{"x":1.62}]},"mark":{"type":"rule","strokeDash":[4,2],"strokeWidth":1.1},"encoding":{"x":{"field":"x","type":"quantitative"},"color":{"condition":{"test":"datum.x==0","value":"#000"},"value":"#555"}}},
 {"data":{"values":[{}]},"mark":{"type":"text","text":"Feb 2022","align":"left","fontSize":8.5,"fontWeight":600},"encoding":{"x":{"datum":2.2},"y":{"datum":1.78}}},
 {"data":{"values":[{}]},"mark":{"type":"text","text":"t","align":"left","fontSize":8.5,"fontWeight":600},"encoding":{"x":{"datum":2.2},"y":{"datum":1.33}}},
 {"data":{"values":[{}]},"mark":{"type":"text","text":"rec","align":"left","fontSize":6,"fontWeight":600,"dx":3.2,"dy":2.5},"encoding":{"x":{"datum":2.2},"y":{"datum":1.33}}},
 {"data":{"values":[{}]},"mark":{"type":"text","text":"=0.81 d","align":"left","fontSize":8.5,"fontWeight":600,"dx":12.3},"encoding":{"x":{"datum":2.2},"y":{"datum":1.33}}}
]},
{"width":205,"height":59,"layer":[
 {"data":{"name":"c1"},"mark":{"type":"line","clip":true,"interpolate":"monotone","strokeWidth":1.5,"opacity":0.75,"color":"#9e5a28"},
  "encoding":{"x":{"field":"t","type":"quantitative","scale":{"domain":[-0.2,3],"nice":false,"zero":false},"axis":{"values":[0,0.5,1,1.5,2,2.5,3],"format":".1f","title":null,"labelOverlap":false}},
   "y":{"field":"v","type":"quantitative","scale":{"domain":[0,2.07],"nice":false,"zero":false},"axis":{"values":[0,0.5,1,1.5,2],"format":".1f","title":"ct s⁻¹","labelOverlap":false}},
   "detail":{"field":"f","type":"nominal"}}},
 {"data":{"values":[{"x":0},{"x":1.10},{"x":2.20}]},"mark":{"type":"rule","strokeDash":[4,2],"strokeWidth":1.1},"encoding":{"x":{"field":"x","type":"quantitative"},"color":{"condition":{"test":"datum.x==0","value":"#000"},"value":"#222"}}},
 {"data":{"values":[{}]},"mark":{"type":"text","text":"Nov 2022","align":"left","fontSize":8.5,"fontWeight":600},"encoding":{"x":{"datum":2.2},"y":{"datum":1.78}}},
 {"data":{"values":[{}]},"mark":{"type":"text","text":"t","align":"left","fontSize":8.5,"fontWeight":600},"encoding":{"x":{"datum":2.2},"y":{"datum":1.33}}},
 {"data":{"values":[{}]},"mark":{"type":"text","text":"rec","align":"left","fontSize":6,"fontWeight":600,"dx":3.2,"dy":2.5},"encoding":{"x":{"datum":2.2},"y":{"datum":1.33}}},
 {"data":{"values":[{}]},"mark":{"type":"text","text":"=1.10 d","align":"left","fontSize":8.5,"fontWeight":600,"dx":12.3},"encoding":{"x":{"datum":2.2},"y":{"datum":1.33}}}
]},
{"width":205,"height":59,"layer":[
 {"data":{"name":"d1"},"mark":{"type":"line","clip":true,"interpolate":"monotone","strokeWidth":1.5,"opacity":0.75,"color":"#c81ec8"},
  "encoding":{"x":{"field":"t","type":"quantitative","scale":{"domain":[-0.2,3],"nice":false,"zero":false},"axis":{"values":[0,0.5,1,1.5,2,2.5,3],"format":".1f","title":null,"labelOverlap":false}},
   "y":{"field":"v","type":"quantitative","scale":{"domain":[0,2.07],"nice":false,"zero":false},"axis":{"values":[0,0.5,1,1.5,2],"format":".1f","title":"ct s⁻¹","labelOverlap":false}},
   "detail":{"field":"f","type":"nominal"}}},
 {"data":{"values":[{"x":0},{"x":0.81},{"x":1.62}]},"mark":{"type":"rule","strokeDash":[4,2],"strokeWidth":1.1},"encoding":{"x":{"field":"x","type":"quantitative"},"color":{"condition":{"test":"datum.x==0","value":"#000"},"value":"#555"}}},
 {"data":{"values":[{}]},"mark":{"type":"text","text":"Dec 2022","align":"left","fontSize":8.5,"fontWeight":600},"encoding":{"x":{"datum":2.2},"y":{"datum":1.78}}},
 {"data":{"values":[{}]},"mark":{"type":"text","text":"t","align":"left","fontSize":8.5,"fontWeight":600},"encoding":{"x":{"datum":2.2},"y":{"datum":1.33}}},
 {"data":{"values":[{}]},"mark":{"type":"text","text":"rec","align":"left","fontSize":6,"fontWeight":600,"dx":3.2,"dy":2.5},"encoding":{"x":{"datum":2.2},"y":{"datum":1.33}}},
 {"data":{"values":[{}]},"mark":{"type":"text","text":"=0.81 d","align":"left","fontSize":8.5,"fontWeight":600,"dx":12.3},"encoding":{"x":{"datum":2.2},"y":{"datum":1.33}}},
 {"data":{"values":[{}]},"mark":{"type":"text","text":"t-t","align":"left","font":"DejaVu Sans","fontSize":11},"encoding":{"x":{"datum":0.55},"y":{"datum":-0.6}}},
 {"data":{"values":[{}]},"mark":{"type":"text","text":"odd,i","align":"left","font":"DejaVu Sans","fontSize":8,"fontStyle":"italic","dx":13,"dy":3},"encoding":{"x":{"datum":0.55},"y":{"datum":-0.6}}},
 {"data":{"values":[{}]},"mark":{"type":"text","text":"(days)","align":"left","font":"DejaVu Sans","fontSize":11,"dx":37},"encoding":{"x":{"datum":0.55},"y":{"datum":-0.6}}}
]}
]},
{"title":{"text":"O-C timing residuals","dx":-8},"bounds":"flush","spacing":11,"vconcat":[
{"width":153,"height":59,"layer":[
 {"data":{"name":"ga2"},"mark":{"type":"line","interpolate":"natural","color":"#999","strokeDash":[3,2],"strokeWidth":0.8},
  "encoding":{"x":{"field":"t","type":"quantitative","scale":{"domain":[-1,15],"nice":false,"zero":false},"axis":{"values":[0,2,4,6,8,10,12,14],"format":"d","title":null,"labelOverlap":false}},
   "y":{"field":"y","type":"quantitative","scale":{"domain":[-0.23,0.24],"nice":false,"zero":false},"axis":{"values":[-0.2,-0.1,0,0.1,0.2],"format":".1f","title":"O-C (days)","labelOverlap":false}}}},
 {"data":{"values":[{}]},"mark":{"type":"rule","strokeDash":[4,3],"color":"#888","strokeWidth":0.9},"encoding":{"y":{"datum":0}}},
 {"data":{"name":"ba2"},"mark":{"type":"line","interpolate":"natural","color":"#3838f0","strokeDash":[4,2],"strokeWidth":1.1},"encoding":{"x":{"field":"t","type":"quantitative"},"y":{"field":"y","type":"quantitative"}}},
 {"data":{"name":"oa2"},"mark":{"type":"line","color":"#111","strokeWidth":1.1,"point":{"filled":true,"size":20,"color":"#000"}},"encoding":{"x":{"field":"t","type":"quantitative"},"y":{"field":"y","type":"quantitative"}}},
 {"data":{"name":"oa2"},"transform":[{"filter":"datum.lo != null"}],"mark":{"type":"rule","color":"#000","strokeWidth":1},"encoding":{"x":{"field":"t","type":"quantitative"},"y":{"field":"lo","type":"quantitative"},"y2":{"field":"hi"}}},
 {"data":{"values":[{}]},"mark":{"type":"text","text":"P","align":"left","font":"DejaVu Sans","fontSize":8.5,"color":"#222"},"encoding":{"x":{"datum":7.9},"y":{"datum":0.195}}},
 {"data":{"values":[{}]},"mark":{"type":"text","text":"peak","align":"left","font":"DejaVu Sans","fontSize":6.2,"fontStyle":"italic","color":"#222","dx":5.3,"dy":2.8},"encoding":{"x":{"datum":7.9},"y":{"datum":0.195}}},
 {"data":{"values":[{}]},"mark":{"type":"text","text":"=8.96 d","align":"left","font":"DejaVu Sans","fontSize":8.5,"color":"#222","dx":20.6},"encoding":{"x":{"datum":7.9},"y":{"datum":0.195}}}
]},
{"width":153,"height":59,"layer":[
 {"data":{"name":"gb2"},"mark":{"type":"line","interpolate":"natural","color":"#999","strokeDash":[3,2],"strokeWidth":0.8},
  "encoding":{"x":{"field":"t","type":"quantitative","scale":{"domain":[-1,15],"nice":false,"zero":false},"axis":{"values":[0,2,4,6,8,10,12,14],"format":"d","title":null,"labelOverlap":false}},
   "y":{"field":"y","type":"quantitative","scale":{"domain":[-0.295,0.31],"nice":false,"zero":false},"axis":{"values":[-0.2,0,0.2],"format":".1f","title":"O-C (days)","labelOverlap":false}}}},
 {"data":{"values":[{}]},"mark":{"type":"rule","strokeDash":[4,3],"color":"#888","strokeWidth":0.9},"encoding":{"y":{"datum":0}}},
 {"data":{"name":"bb2"},"mark":{"type":"line","interpolate":"natural","color":"#3838f0","strokeDash":[4,2],"strokeWidth":1.1},"encoding":{"x":{"field":"t","type":"quantitative"},"y":{"field":"y","type":"quantitative"}}},
 {"data":{"name":"ob2"},"mark":{"type":"line","color":"#111","strokeWidth":1.1,"point":{"filled":true,"size":20,"color":"#000"}},"encoding":{"x":{"field":"t","type":"quantitative"},"y":{"field":"y","type":"quantitative"}}},
 {"data":{"values":[{}]},"mark":{"type":"text","text":"P","align":"left","font":"DejaVu Sans","fontSize":8.5,"color":"#222"},"encoding":{"x":{"datum":7.9},"y":{"datum":0.256}}},
 {"data":{"values":[{}]},"mark":{"type":"text","text":"peak","align":"left","font":"DejaVu Sans","fontSize":6.2,"fontStyle":"italic","color":"#222","dx":5.3,"dy":2.8},"encoding":{"x":{"datum":7.9},"y":{"datum":0.256}}},
 {"data":{"values":[{}]},"mark":{"type":"text","text":"=6.14 d","align":"left","font":"DejaVu Sans","fontSize":8.5,"color":"#222","dx":20.6},"encoding":{"x":{"datum":7.9},"y":{"datum":0.256}}},
 {"data":{"values":[{}]},"mark":{"type":"text","text":"P","align":"left","font":"DejaVu Sans","fontSize":8.5,"color":"#3030e8"},"encoding":{"x":{"datum":7.9},"y":{"datum":-0.253}}},
 {"data":{"values":[{}]},"mark":{"type":"text","text":"fixed","align":"left","font":"DejaVu Sans","fontSize":6.2,"fontStyle":"italic","color":"#3030e8","dx":5.3,"dy":2.8},"encoding":{"x":{"datum":7.9},"y":{"datum":-0.253}}},
 {"data":{"values":[{}]},"mark":{"type":"text","text":"=5.73 d","align":"left","font":"DejaVu Sans","fontSize":8.5,"color":"#3030e8","dx":20.6},"encoding":{"x":{"datum":7.9},"y":{"datum":-0.253}}}
]},
{"width":153,"height":59,"layer":[
 {"data":{"name":"gc2"},"mark":{"type":"line","interpolate":"natural","color":"#999","strokeDash":[3,2],"strokeWidth":0.8},
  "encoding":{"x":{"field":"t","type":"quantitative","scale":{"domain":[-1,15],"nice":false,"zero":false},"axis":{"values":[0,2,4,6,8,10,12,14],"format":"d","title":null,"labelOverlap":false}},
   "y":{"field":"y","type":"quantitative","scale":{"domain":[-1.41,1.54],"nice":false,"zero":false},"axis":{"values":[-1,0,1],"format":".1f","title":"O-C (days)","labelOverlap":false}}}},
 {"data":{"values":[{}]},"mark":{"type":"rule","strokeDash":[4,3],"color":"#888","strokeWidth":0.9},"encoding":{"y":{"datum":0}}},
 {"data":{"name":"bc2"},"mark":{"type":"line","interpolate":"natural","color":"#3838f0","strokeDash":[4,2],"strokeWidth":1.1},"encoding":{"x":{"field":"t","type":"quantitative"},"y":{"field":"y","type":"quantitative"}}},
 {"data":{"name":"oc2"},"mark":{"type":"line","color":"#111","strokeWidth":1.1,"point":{"filled":true,"size":20,"color":"#000"}},"encoding":{"x":{"field":"t","type":"quantitative"},"y":{"field":"y","type":"quantitative"}}},
 {"data":{"name":"oc2"},"transform":[{"filter":"datum.lo != null"}],"mark":{"type":"rule","color":"#000","strokeWidth":1},"encoding":{"x":{"field":"t","type":"quantitative"},"y":{"field":"lo","type":"quantitative"},"y2":{"field":"hi"}}},
 {"data":{"values":[{}]},"mark":{"type":"text","text":"P","align":"left","font":"DejaVu Sans","fontSize":8.5,"color":"#222"},"encoding":{"x":{"datum":7.9},"y":{"datum":1.15}}},
 {"data":{"values":[{}]},"mark":{"type":"text","text":"peak","align":"left","font":"DejaVu Sans","fontSize":6.2,"fontStyle":"italic","color":"#222","dx":5.3,"dy":2.8},"encoding":{"x":{"datum":7.9},"y":{"datum":1.15}}},
 {"data":{"values":[{}]},"mark":{"type":"text","text":"=5.26 d","align":"left","font":"DejaVu Sans","fontSize":8.5,"color":"#222","dx":20.6},"encoding":{"x":{"datum":7.9},"y":{"datum":1.15}}}
]},
{"width":153,"height":59,"layer":[
 {"data":{"name":"gd2"},"mark":{"type":"line","interpolate":"natural","color":"#999","strokeDash":[3,2],"strokeWidth":0.8},
  "encoding":{"x":{"field":"t","type":"quantitative","scale":{"domain":[-1,15],"nice":false,"zero":false},"axis":{"values":[0,2,4,6,8,10,12,14],"format":"d","title":"t (days)","titleFontSize":10.5,"titlePadding":2.5,"labelOverlap":false}},
   "y":{"field":"y","type":"quantitative","scale":{"domain":[-0.317,0.325],"nice":false,"zero":false},"axis":{"values":[-0.2,0,0.2],"format":".1f","title":"O-C (days)","labelOverlap":false}}}},
 {"data":{"values":[{}]},"mark":{"type":"rule","strokeDash":[4,3],"color":"#888","strokeWidth":0.9},"encoding":{"y":{"datum":0}}},
 {"data":{"name":"bd2"},"mark":{"type":"line","interpolate":"natural","color":"#3838f0","strokeDash":[4,2],"strokeWidth":1.1},"encoding":{"x":{"field":"t","type":"quantitative"},"y":{"field":"y","type":"quantitative"}}},
 {"data":{"name":"od2"},"mark":{"type":"line","color":"#111","strokeWidth":1.1,"point":{"filled":true,"size":20,"color":"#000"}},"encoding":{"x":{"field":"t","type":"quantitative"},"y":{"field":"y","type":"quantitative"}}},
 {"data":{"values":[{}]},"mark":{"type":"text","text":"P","align":"left","font":"DejaVu Sans","fontSize":8.5,"color":"#222"},"encoding":{"x":{"datum":7.9},"y":{"datum":0.26}}},
 {"data":{"values":[{}]},"mark":{"type":"text","text":"peak","align":"left","font":"DejaVu Sans","fontSize":6.2,"fontStyle":"italic","color":"#222","dx":5.3,"dy":2.8},"encoding":{"x":{"datum":7.9},"y":{"datum":0.26}}},
 {"data":{"values":[{}]},"mark":{"type":"text","text":"=5.90 d","align":"left","font":"DejaVu Sans","fontSize":8.5,"color":"#222","dx":20.6},"encoding":{"x":{"datum":7.9},"y":{"datum":0.26}}}
]}
]}
]},
{"spacing":-20,"hconcat":[
{"title":{"text":"Overplotted even/odd QPEs","dx":-15},"bounds":"flush","spacing":11,"vconcat":[
{"width":205,"height":59,"layer":[
 {"data":{"name":"a3"},"mark":{"type":"line","clip":true,"interpolate":"monotone","strokeWidth":1.5,"opacity":0.7,"color":"#ff1e1e"},
  "encoding":{"x":{"field":"t","type":"quantitative","scale":{"domain":[-0.2,3],"nice":false,"zero":false},"axis":{"values":[0,0.5,1,1.5,2,2.5,3],"format":".1f","title":null,"labelOverlap":false}},
   "y":{"field":"v","type":"quantitative","scale":{"domain":[0,2.07],"nice":false,"zero":false},"axis":{"values":[0,0.5,1,1.5,2],"format":".1f","title":"ct s⁻¹","labelOverlap":false}},
   "detail":{"field":"f","type":"nominal"}}},
 {"data":{"values":[{"x":0},{"x":0.84},{"x":1.68}]},"mark":{"type":"rule","strokeDash":[4,2],"strokeWidth":1.1},"encoding":{"x":{"field":"x","type":"quantitative"},"color":{"condition":{"test":"datum.x==0","value":"#000"},"value":"#555"}}},
 {"data":{"values":[{}]},"mark":{"type":"text","text":"Aug 2021","align":"left","fontSize":8.5,"fontWeight":600},"encoding":{"x":{"datum":2.2},"y":{"datum":1.78}}},
 {"data":{"values":[{}]},"mark":{"type":"text","text":"t","align":"left","fontSize":8.5,"fontWeight":600},"encoding":{"x":{"datum":2.2},"y":{"datum":1.33}}},
 {"data":{"values":[{}]},"mark":{"type":"text","text":"rec","align":"left","fontSize":6,"fontWeight":600,"dx":3.2,"dy":2.5},"encoding":{"x":{"datum":2.2},"y":{"datum":1.33}}},
 {"data":{"values":[{}]},"mark":{"type":"text","text":"=0.84 d","align":"left","fontSize":8.5,"fontWeight":600,"dx":12.3},"encoding":{"x":{"datum":2.2},"y":{"datum":1.33}}}
]},
{"width":205,"height":59,"layer":[
 {"data":{"name":"b3"},"mark":{"type":"line","clip":true,"interpolate":"monotone","strokeWidth":1.5,"opacity":0.75,"color":"#9e5a28"},
  "encoding":{"x":{"field":"t","type":"quantitative","scale":{"domain":[-0.2,3],"nice":false,"zero":false},"axis":{"values":[0,0.5,1,1.5,2,2.5,3],"format":".1f","title":null,"labelOverlap":false}},
   "y":{"field":"v","type":"quantitative","scale":{"domain":[0,2.07],"nice":false,"zero":false},"axis":{"values":[0,0.5,1,1.5,2],"format":".1f","title":"ct s⁻¹","labelOverlap":false}},
   "detail":{"field":"f","type":"nominal"}}},
 {"data":{"values":[{"x":0},{"x":0.9},{"x":1.8}]},"mark":{"type":"rule","strokeDash":[4,2],"strokeWidth":1.1},"encoding":{"x":{"field":"x","type":"quantitative"},"color":{"condition":{"test":"datum.x==0","value":"#000"},"value":"#555"}}},
 {"data":{"values":[{}]},"mark":{"type":"text","text":"Oct 2022","align":"left","fontSize":8.5,"fontWeight":600},"encoding":{"x":{"datum":2.2},"y":{"datum":1.78}}},
 {"data":{"values":[{}]},"mark":{"type":"text","text":"t","align":"left","fontSize":8.5,"fontWeight":600},"encoding":{"x":{"datum":2.2},"y":{"datum":1.33}}},
 {"data":{"values":[{}]},"mark":{"type":"text","text":"rec","align":"left","fontSize":6,"fontWeight":600,"dx":3.2,"dy":2.5},"encoding":{"x":{"datum":2.2},"y":{"datum":1.33}}},
 {"data":{"values":[{}]},"mark":{"type":"text","text":"=0.90 d","align":"left","fontSize":8.5,"fontWeight":600,"dx":12.3},"encoding":{"x":{"datum":2.2},"y":{"datum":1.33}}}
]},
{"width":205,"height":59,"layer":[
 {"data":{"name":"c3"},"mark":{"type":"line","clip":true,"interpolate":"monotone","strokeWidth":1.5,"opacity":0.75,"color":"#c81ec8"},
  "encoding":{"x":{"field":"t","type":"quantitative","scale":{"domain":[-0.2,3],"nice":false,"zero":false},"axis":{"values":[0,0.5,1,1.5,2,2.5,3],"format":".1f","title":null,"labelOverlap":false}},
   "y":{"field":"v","type":"quantitative","scale":{"domain":[0,2.07],"nice":false,"zero":false},"axis":{"values":[0,0.5,1,1.5,2],"format":".1f","title":"ct s⁻¹","labelOverlap":false}},
   "detail":{"field":"f","type":"nominal"}}},
 {"data":{"values":[{"x":0},{"x":1.04},{"x":2.08}]},"mark":{"type":"rule","strokeDash":[4,2],"strokeWidth":1.1},"encoding":{"x":{"field":"x","type":"quantitative"},"color":{"condition":{"test":"datum.x==0","value":"#000"},"value":"#555"}}},
 {"data":{"values":[{}]},"mark":{"type":"text","text":"Dec 2022","align":"left","fontSize":8.5,"fontWeight":600},"encoding":{"x":{"datum":2.2},"y":{"datum":1.78}}},
 {"data":{"values":[{}]},"mark":{"type":"text","text":"t","align":"left","fontSize":8.5,"fontWeight":600},"encoding":{"x":{"datum":2.2},"y":{"datum":1.33}}},
 {"data":{"values":[{}]},"mark":{"type":"text","text":"rec","align":"left","fontSize":6,"fontWeight":600,"dx":3.2,"dy":2.5},"encoding":{"x":{"datum":2.2},"y":{"datum":1.33}}},
 {"data":{"values":[{}]},"mark":{"type":"text","text":"=1.04 d","align":"left","fontSize":8.5,"fontWeight":600,"dx":12.3},"encoding":{"x":{"datum":2.2},"y":{"datum":1.33}}}
]},
{"width":205,"height":59,"layer":[
 {"data":{"name":"d3"},"mark":{"type":"line","clip":true,"interpolate":"monotone","strokeWidth":1.5,"opacity":0.75,"color":"#3a3aff"},
  "encoding":{"x":{"field":"t","type":"quantitative","scale":{"domain":[-0.2,3],"nice":false,"zero":false},"axis":{"values":[0,0.5,1,1.5,2,2.5,3],"format":".1f","title":null,"labelOverlap":false}},
   "y":{"field":"v","type":"quantitative","scale":{"domain":[0,2.07],"nice":false,"zero":false},"axis":{"values":[0,0.5,1,1.5,2],"format":".1f","title":"ct s⁻¹","labelOverlap":false}},
   "detail":{"field":"f","type":"nominal"}}},
 {"data":{"values":[{"x":0},{"x":1.03},{"x":2.06}]},"mark":{"type":"rule","strokeDash":[4,2],"strokeWidth":1.1},"encoding":{"x":{"field":"x","type":"quantitative"},"color":{"condition":{"test":"datum.x==0","value":"#000"},"value":"#555"}}},
 {"data":{"values":[{}]},"mark":{"type":"text","text":"Jan 2023","align":"left","fontSize":8.5,"fontWeight":600},"encoding":{"x":{"datum":2.2},"y":{"datum":1.78}}},
 {"data":{"values":[{}]},"mark":{"type":"text","text":"t","align":"left","fontSize":8.5,"fontWeight":600},"encoding":{"x":{"datum":2.2},"y":{"datum":1.33}}},
 {"data":{"values":[{}]},"mark":{"type":"text","text":"rec","align":"left","fontSize":6,"fontWeight":600,"dx":3.2,"dy":2.5},"encoding":{"x":{"datum":2.2},"y":{"datum":1.33}}},
 {"data":{"values":[{}]},"mark":{"type":"text","text":"=1.03 d","align":"left","fontSize":8.5,"fontWeight":600,"dx":12.3},"encoding":{"x":{"datum":2.2},"y":{"datum":1.33}}},
 {"data":{"values":[{}]},"mark":{"type":"text","text":"t-t","align":"left","font":"DejaVu Sans","fontSize":11},"encoding":{"x":{"datum":0.55},"y":{"datum":-0.6}}},
 {"data":{"values":[{}]},"mark":{"type":"text","text":"odd,i","align":"left","font":"DejaVu Sans","fontSize":8,"fontStyle":"italic","dx":13,"dy":3},"encoding":{"x":{"datum":0.55},"y":{"datum":-0.6}}},
 {"data":{"values":[{}]},"mark":{"type":"text","text":"(days)","align":"left","font":"DejaVu Sans","fontSize":11,"dx":37},"encoding":{"x":{"datum":0.55},"y":{"datum":-0.6}}}
]}
]},
{"title":{"text":"O-C timing residuals","dx":-8},"bounds":"flush","spacing":11,"vconcat":[
{"width":153,"height":59,"layer":[
 {"data":{"name":"ga4"},"mark":{"type":"line","interpolate":"natural","color":"#999","strokeDash":[3,2],"strokeWidth":0.8},
  "encoding":{"x":{"field":"t","type":"quantitative","scale":{"domain":[-1,15],"nice":false,"zero":false},"axis":{"values":[0,2,4,6,8,10,12,14],"format":"d","title":null,"labelOverlap":false}},
   "y":{"field":"y","type":"quantitative","scale":{"domain":[-0.232,0.232],"nice":false,"zero":false},"axis":{"values":[-0.2,-0.1,0,0.1,0.2],"format":".1f","title":"O-C (days)","labelOverlap":false}}}},
 {"data":{"values":[{}]},"mark":{"type":"rule","strokeDash":[4,3],"color":"#888","strokeWidth":0.9},"encoding":{"y":{"datum":0}}},
 {"data":{"name":"ba4"},"mark":{"type":"line","interpolate":"natural","color":"#3838f0","strokeDash":[4,2],"strokeWidth":1.1},"encoding":{"x":{"field":"t","type":"quantitative"},"y":{"field":"y","type":"quantitative"}}},
 {"data":{"name":"oa4"},"mark":{"type":"line","color":"#111","strokeWidth":1.1,"point":{"filled":true,"size":20,"color":"#000"}},"encoding":{"x":{"field":"t","type":"quantitative"},"y":{"field":"y","type":"quantitative"}}},
 {"data":{"values":[{}]},"mark":{"type":"text","text":"P","align":"left","font":"DejaVu Sans","fontSize":8.5,"color":"#222"},"encoding":{"x":{"datum":7.9},"y":{"datum":0.197}}},
 {"data":{"values":[{}]},"mark":{"type":"text","text":"peak","align":"left","font":"DejaVu Sans","fontSize":6.2,"fontStyle":"italic","color":"#222","dx":5.3,"dy":2.8},"encoding":{"x":{"datum":7.9},"y":{"datum":0.197}}},
 {"data":{"values":[{}]},"mark":{"type":"text","text":"=5.97 d","align":"left","font":"DejaVu Sans","fontSize":8.5,"color":"#222","dx":20.6},"encoding":{"x":{"datum":7.9},"y":{"datum":0.197}}}
]},
{"width":153,"height":59,"layer":[
 {"data":{"name":"gb4"},"mark":{"type":"line","interpolate":"natural","color":"#999","strokeDash":[3,2],"strokeWidth":0.8},
  "encoding":{"x":{"field":"t","type":"quantitative","scale":{"domain":[-1,15],"nice":false,"zero":false},"axis":{"values":[0,2,4,6,8,10,12,14],"format":"d","title":null,"labelOverlap":false}},
   "y":{"field":"y","type":"quantitative","scale":{"domain":[-0.554,0.554],"nice":false,"zero":false},"axis":{"values":[-0.5,-0.25,0,0.25,0.5],"labelExpr":"datum.value == 0.25 ? '0.2' : datum.value == -0.25 ? '−0.2' : format(datum.value, '.1f')","title":"O-C (days)","labelOverlap":false}}}},
 {"data":{"values":[{}]},"mark":{"type":"rule","strokeDash":[4,3],"color":"#888","strokeWidth":0.9},"encoding":{"y":{"datum":0}}},
 {"data":{"name":"bb4"},"mark":{"type":"line","interpolate":"natural","color":"#3838f0","strokeDash":[4,2],"strokeWidth":1.1},"encoding":{"x":{"field":"t","type":"quantitative"},"y":{"field":"y","type":"quantitative"}}},
 {"data":{"name":"ob4"},"mark":{"type":"line","color":"#111","strokeWidth":1.1,"point":{"filled":true,"size":20,"color":"#000"}},"encoding":{"x":{"field":"t","type":"quantitative"},"y":{"field":"y","type":"quantitative"}}},
 {"data":{"name":"ob4"},"transform":[{"filter":"datum.lo != null"}],"mark":{"type":"rule","color":"#000","strokeWidth":1},"encoding":{"x":{"field":"t","type":"quantitative"},"y":{"field":"lo","type":"quantitative"},"y2":{"field":"hi"}}},
 {"data":{"values":[{}]},"mark":{"type":"text","text":"P","align":"left","font":"DejaVu Sans","fontSize":8.5,"color":"#222"},"encoding":{"x":{"datum":7.9},"y":{"datum":0.437}}},
 {"data":{"values":[{}]},"mark":{"type":"text","text":"peak","align":"left","font":"DejaVu Sans","fontSize":6.2,"fontStyle":"italic","color":"#222","dx":5.3,"dy":2.8},"encoding":{"x":{"datum":7.9},"y":{"datum":0.437}}},
 {"data":{"values":[{}]},"mark":{"type":"text","text":"=5.80 d","align":"left","font":"DejaVu Sans","fontSize":8.5,"color":"#222","dx":20.6},"encoding":{"x":{"datum":7.9},"y":{"datum":0.437}}},
 {"data":{"values":[{}]},"mark":{"type":"text","text":"P","align":"left","font":"DejaVu Sans","fontSize":8.5,"color":"#3030e8"},"encoding":{"x":{"datum":7.9},"y":{"datum":-0.42}}},
 {"data":{"values":[{}]},"mark":{"type":"text","text":"fixed","align":"left","font":"DejaVu Sans","fontSize":6.2,"fontStyle":"italic","color":"#3030e8","dx":5.3,"dy":2.8},"encoding":{"x":{"datum":7.9},"y":{"datum":-0.42}}},
 {"data":{"values":[{}]},"mark":{"type":"text","text":"=5.73 d","align":"left","font":"DejaVu Sans","fontSize":8.5,"color":"#3030e8","dx":20.6},"encoding":{"x":{"datum":7.9},"y":{"datum":-0.42}}}
]},
{"width":153,"height":59,"layer":[
 {"data":{"name":"gc4"},"mark":{"type":"line","interpolate":"natural","color":"#999","strokeDash":[3,2],"strokeWidth":0.8},
  "encoding":{"x":{"field":"t","type":"quantitative","scale":{"domain":[-1,15],"nice":false,"zero":false},"axis":{"values":[0,2,4,6,8,10,12,14],"format":"d","title":null,"labelOverlap":false}},
   "y":{"field":"y","type":"quantitative","scale":{"domain":[-0.566,0.566],"nice":false,"zero":false},"axis":{"values":[-0.5,-0.25,0,0.25,0.5],"labelExpr":"datum.value == 0.25 ? '0.2' : datum.value == -0.25 ? '−0.2' : format(datum.value, '.1f')","title":"O-C (days)","labelOverlap":false}}}},
 {"data":{"values":[{}]},"mark":{"type":"rule","strokeDash":[4,3],"color":"#888","strokeWidth":0.9},"encoding":{"y":{"datum":0}}},
 {"data":{"name":"bc4"},"mark":{"type":"line","interpolate":"natural","color":"#3838f0","strokeDash":[4,2],"strokeWidth":1.1},"encoding":{"x":{"field":"t","type":"quantitative"},"y":{"field":"y","type":"quantitative"}}},
 {"data":{"name":"oc4"},"mark":{"type":"line","color":"#111","strokeWidth":1.1,"point":{"filled":true,"size":20,"color":"#000"}},"encoding":{"x":{"field":"t","type":"quantitative"},"y":{"field":"y","type":"quantitative"}}},
 {"data":{"name":"oc4"},"transform":[{"filter":"datum.lo != null"}],"mark":{"type":"rule","color":"#000","strokeWidth":1},"encoding":{"x":{"field":"t","type":"quantitative"},"y":{"field":"lo","type":"quantitative"},"y2":{"field":"hi"}}},
 {"data":{"values":[{}]},"mark":{"type":"text","text":"P","align":"left","font":"DejaVu Sans","fontSize":8.5,"color":"#222"},"encoding":{"x":{"datum":7.9},"y":{"datum":0.454}}},
 {"data":{"values":[{}]},"mark":{"type":"text","text":"peak","align":"left","font":"DejaVu Sans","fontSize":6.2,"fontStyle":"italic","color":"#222","dx":5.3,"dy":2.8},"encoding":{"x":{"datum":7.9},"y":{"datum":0.454}}},
 {"data":{"values":[{}]},"mark":{"type":"text","text":"=2.50 d","align":"left","font":"DejaVu Sans","fontSize":8.5,"color":"#222","dx":20.6},"encoding":{"x":{"datum":7.9},"y":{"datum":0.454}}}
]},
{"width":153,"height":59,"layer":[
 {"data":{"name":"gd4"},"mark":{"type":"line","interpolate":"natural","color":"#999","strokeDash":[3,2],"strokeWidth":0.8},
  "encoding":{"x":{"field":"t","type":"quantitative","scale":{"domain":[-1,15],"nice":false,"zero":false},"axis":{"values":[0,2,4,6,8,10,12,14],"format":"d","title":"t (days)","titleFontSize":10.5,"titlePadding":2.5,"labelOverlap":false}},
   "y":{"field":"y","type":"quantitative","scale":{"domain":[-0.368,0.368],"nice":false,"zero":false},"axis":{"values":[-0.2,0,0.2],"format":".1f","title":"O-C (days)","labelOverlap":false}}}},
 {"data":{"values":[{}]},"mark":{"type":"rule","strokeDash":[4,3],"color":"#888","strokeWidth":0.9},"encoding":{"y":{"datum":0}}},
 {"data":{"name":"bd4"},"mark":{"type":"line","interpolate":"natural","color":"#3838f0","strokeDash":[4,2],"strokeWidth":1.1},"encoding":{"x":{"field":"t","type":"quantitative"},"y":{"field":"y","type":"quantitative"}}},
 {"data":{"name":"od4"},"mark":{"type":"line","color":"#111","strokeWidth":1.1,"point":{"filled":true,"size":20,"color":"#000"}},"encoding":{"x":{"field":"t","type":"quantitative"},"y":{"field":"y","type":"quantitative"}}},
 {"data":{"values":[{}]},"mark":{"type":"text","text":"P","align":"left","font":"DejaVu Sans","fontSize":8.5,"color":"#222"},"encoding":{"x":{"datum":7.9},"y":{"datum":0.295}}},
 {"data":{"values":[{}]},"mark":{"type":"text","text":"peak","align":"left","font":"DejaVu Sans","fontSize":6.2,"fontStyle":"italic","color":"#222","dx":5.3,"dy":2.8},"encoding":{"x":{"datum":7.9},"y":{"datum":0.295}}},
 {"data":{"values":[{}]},"mark":{"type":"text","text":"=5.29 d","align":"left","font":"DejaVu Sans","fontSize":8.5,"color":"#222","dx":20.6},"encoding":{"x":{"datum":7.9},"y":{"datum":0.295}}}
]}
]}
]}
]
}
